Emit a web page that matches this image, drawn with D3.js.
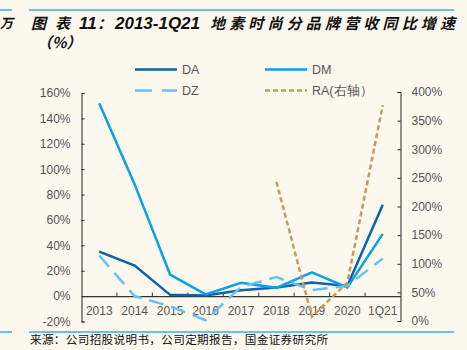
<!DOCTYPE html>
<html><head><meta charset="utf-8">
<script src="https://cdn.jsdelivr.net/npm/d3@7"></script>
<style>body{margin:0;background:#fcf8ee;}svg{display:block;}</style>
</head><body><svg id="c" width="467" height="350"></svg>
<script>
const categories = ["2013","2014","2015","2016","2017","2018","2019","2020","1Q21"];
const DA = [35, 24, 1, 0.5, 4.7, 6.8, 10.8, 8, 72];
const DM = [152, 88, 17, 1.3, 10.5, 6.5, 18.7, 6.8, 49];
const DZ = [32, 0, -8, -19, 7.3, 15, 4.7, 8, 29.7];
const RA = [null, null, null, null, null, 243, 7.5, 67, 377];
const leftTicks = [-20,0,20,40,60,80,100,120,140,160];
const rightTicks = [0,50,100,150,200,250,300,350,400];

const svg = d3.select("#c");
const font = "'Liberation Sans', Arial, sans-serif";
const cjk = "'Noto Sans CJK SC', sans-serif";
svg.append("rect").attr("width",467).attr("height",350).attr("fill","#fcf8ee");

// decorations
svg.append("line").attr("x1",29).attr("x2",454).attr("y1",10).attr("y2",10).attr("stroke","#3aaee6").attr("stroke-width",1.5);
svg.append("line").attr("x1",0).attr("x2",12).attr("y1",10).attr("y2",10).attr("stroke","#3aaee6").attr("stroke-width",1.5);
svg.append("line").attr("x1",29).attr("x2",454).attr("y1",332).attr("y2",332).attr("stroke","#3aaee6").attr("stroke-width",1.5);
svg.append("line").attr("x1",0).attr("x2",12).attr("y1",332).attr("y2",332).attr("stroke","#3aaee6").attr("stroke-width",1.5);
svg.append("text").attr("x",0).attr("y",28).attr("font-family",cjk).attr("font-size",13).attr("font-style","italic").attr("font-weight","bold").attr("fill","#111").text("万");

function tt(x, txt, fam, size, len){
  const t = svg.append("text").attr("x",x).attr("y",28.5).attr("font-family",fam).attr("font-size",size)
    .attr("font-style","italic").attr("font-weight","bold").attr("fill","#111").text(txt);
  if(len) t.attr("textLength",len).attr("lengthAdjust","spacing");
}
tt(31, "图", cjk, 15);
tt(55, "表", cjk, 15);
tt(79, "11", font, 17);
tt(97, "：", cjk, 15);
tt(115, "2013-1Q21", font, 17, 85);
tt(210, "地素时尚分品牌营收同比增速", cjk, 15, 245);
svg.append("text").attr("x",37).attr("y",48).attr("font-family",cjk).attr("font-size",15).attr("font-style","italic").attr("font-weight","bold").attr("fill","#111").text("（%）");

svg.append("text").attr("x",30).attr("y",344).attr("font-family",cjk).attr("font-size",11.6).attr("fill","#111")
  .attr("textLength",298).attr("lengthAdjust","spacing").text("来源：公司招股说明书，公司定期报告，国金证券研究所");

const x = d3.scaleBand().domain(categories).range([81.5, 400.5]);
const yL = d3.scaleLinear().domain([-20,160]).range([321.5, 93]);
const yR = d3.scaleLinear().domain([0,400]).range([321, 92]);

// left axis
const gL = svg.append("g").attr("transform","translate(81.5,0)")
  .call(d3.axisLeft(yL).tickValues(leftTicks).tickFormat(d=>d+"%").tickSizeInner(-3).tickSizeOuter(-3).tickPadding(11));
gL.selectAll("text").attr("font-family",font).attr("font-size",12).attr("fill","#555");
gL.selectAll("path,line").attr("stroke","#222");

const gR = svg.append("g").attr("transform","translate(400.5,0)")
  .call(d3.axisRight(yR).tickValues(rightTicks).tickFormat(d=>d+"%").tickSizeInner(-3).tickSizeOuter(-3).tickPadding(11));
gR.selectAll("text").attr("font-family",font).attr("font-size",12).attr("fill","#555");
gR.selectAll("path,line").attr("stroke","#222");

// x axis at 0
const gX = svg.append("g").attr("transform",`translate(0,${yL(0)})`)
  .call(d3.axisBottom(x).tickSize(0).tickPadding(10));
gX.select(".domain").attr("stroke","#333").attr("stroke-width",1.2);
gX.selectAll("text").attr("font-family",font).attr("font-size",12).attr("fill","#555");
categories.slice(1).forEach(c=>{
  gX.append("line").attr("x1",x(c)).attr("x2",x(c)).attr("y1",0).attr("y2",-3.5).attr("stroke","#333");
});

const cx = c => x(c) + x.bandwidth()/2;
const lineL = d3.line().defined(d=>d.v!=null).x(d=>cx(d.c)).y(d=>yL(d.v));
const lineR = d3.line().defined(d=>d.v!=null).x(d=>cx(d.c)).y(d=>yR(d.v));
const mk = arr => categories.map((c,i)=>({c, v:arr[i]}));

const series = [
  {name:"DA", data:DA, color:"#0d62ac", dash:null, gen:lineL},
  {name:"DM", data:DM, color:"#0aa0e6", dash:null, gen:lineL},
  {name:"DZ", data:DZ, color:"#66c2ef", dash:"15,8", gen:lineL},
  {name:"RA(右轴）", data:RA, color:"#c49b5c", dash:"5,3", gen:lineR}
];
series.forEach(s=>{
  svg.append("path").datum(mk(s.data)).attr("d",s.gen).attr("fill","none")
    .attr("stroke",s.color).attr("stroke-width",2.5).attr("stroke-dasharray",s.dash)
    .attr("stroke-linejoin","miter");
});

// legend
const legPos = [[135,69.5],[265,69.5],[135,90.5],[265,90.5]];
series.forEach((s,i)=>{
  const [lx,ly] = legPos[i];
  svg.append("line").attr("x1",lx).attr("x2",lx+42).attr("y1",ly).attr("y2",ly)
    .attr("stroke",s.color).attr("stroke-width",2.5).attr("stroke-dasharray", s.name==="DZ" ? "17,10" : s.dash);
  svg.append("text").attr("x",lx+47).attr("y",ly+4.5).attr("font-family",font).attr("font-size",12.5).attr("fill","#555").text(s.name);
});
</script></body></html>
